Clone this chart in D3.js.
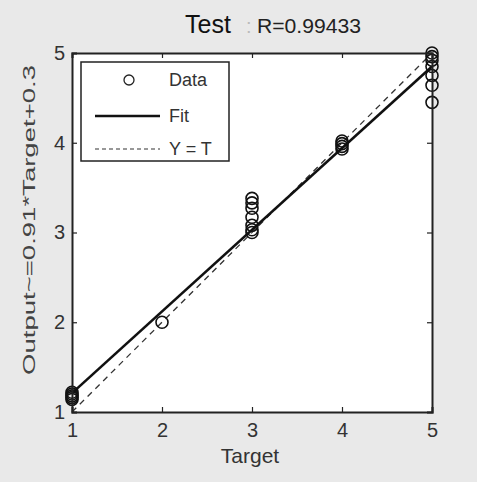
<!DOCTYPE html>
<html>
<head>
<meta charset="utf-8">
<script src="https://cdn.jsdelivr.net/npm/d3@7"></script>
<style>
  html, body { margin: 0; padding: 0; background: #e9e9e9; }
  svg { display: block; font-family: Arial, "Liberation Sans", sans-serif; }
</style>
</head>
<body>
<script>
// Regression plot for the test set: outputs vs. targets
const targets = [1, 1, 1, 1, 1, 2, 3, 3, 3, 3, 3, 3, 3, 4, 4, 4, 4, 5, 5, 5, 5, 5, 5, 5];
const outputs = [1.14, 1.16, 1.18, 1.2, 1.22, 2.0, 3.0, 3.03, 3.08, 3.17, 3.27, 3.33, 3.38, 3.93, 3.96, 3.99, 4.02, 4.45, 4.64, 4.75, 4.85, 4.92, 4.96, 5.0];
const fitSlope = 0.91, fitIntercept = 0.3;
const xTicks = [1, 2, 3, 4, 5];
const yTicks = [1, 2, 3, 4, 5];
const legendLabels = ["Data", "Fit", "Y = T"];

const W = 477, H = 482;
const svg = d3.select("body").append("svg").attr("width", W).attr("height", H);

const plotL = 72, plotR = 432, plotT = 53, plotB = 412;
const x = d3.scaleLinear().domain([1, 5]).range([plotL, plotR]);
const y = d3.scaleLinear().domain([1, 5]).range([plotB, plotT]);

// plot area
svg.append("rect").attr("x", plotL).attr("y", plotT)
  .attr("width", plotR - plotL).attr("height", plotB - plotT).attr("fill", "#fff");

// Y = T reference line (dashed)
svg.append("line")
  .attr("x1", x(1)).attr("y1", y(1)).attr("x2", x(5)).attr("y2", y(5))
  .attr("stroke", "#333").attr("stroke-width", 1.3).attr("stroke-dasharray", "6,5");

// fitted line
svg.append("line")
  .attr("x1", x(1)).attr("y1", y(fitSlope * 1 + fitIntercept))
  .attr("x2", x(5)).attr("y2", y(fitSlope * 5 + fitIntercept))
  .attr("stroke", "#111").attr("stroke-width", 2.6);

// data points
svg.append("g").selectAll("circle")
  .data(targets.map((t, i) => [t, outputs[i]]))
  .join("circle")
  .attr("cx", d => x(d[0])).attr("cy", d => y(d[1])).attr("r", 6)
  .attr("fill", "none").attr("stroke", "#111").attr("stroke-width", 1.6);

// axes: ticks inside the box, box on all sides
const axisColor = "#222";
const gx = svg.append("g").attr("transform", `translate(0,${plotB})`)
  .call(d3.axisBottom(x).tickValues(xTicks).tickSize(-5).tickPadding(11).tickFormat(d3.format("d")));
const gxTop = svg.append("g").attr("transform", `translate(0,${plotT})`)
  .call(d3.axisTop(x).tickValues(xTicks).tickSize(-5).tickFormat(""));
const gy = svg.append("g").attr("transform", `translate(${plotL},0)`)
  .call(d3.axisLeft(y).tickValues(yTicks).tickSize(-5).tickPadding(7).tickFormat(d3.format("d")));
const gyRight = svg.append("g").attr("transform", `translate(${plotR},0)`)
  .call(d3.axisRight(y).tickValues(yTicks).tickSize(-5).tickFormat(""));

[gx, gxTop, gy, gyRight].forEach(g => {
  g.select(".domain").attr("stroke", axisColor).attr("stroke-width", 2);
  g.selectAll(".tick line").attr("stroke", axisColor).attr("stroke-width", 1.2);
  g.selectAll(".tick text").attr("fill", "#333").attr("font-size", 20);
});

// legend
const lg = svg.append("g");
lg.append("rect").attr("x", 81).attr("y", 62).attr("width", 148).attr("height", 99)
  .attr("fill", "#fff").attr("stroke", "#222").attr("stroke-width", 1.5);
lg.append("circle").attr("cx", 129).attr("cy", 80).attr("r", 5)
  .attr("fill", "none").attr("stroke", "#222").attr("stroke-width", 1.3);
lg.append("line").attr("x1", 95).attr("x2", 160).attr("y1", 116).attr("y2", 116)
  .attr("stroke", "#111").attr("stroke-width", 2.4);
lg.append("line").attr("x1", 95).attr("x2", 160).attr("y1", 149).attr("y2", 149)
  .attr("stroke", "#333").attr("stroke-width", 1.2).attr("stroke-dasharray", "4,3");
lg.selectAll("text").data(legendLabels).join("text")
  .attr("x", 169).attr("y", (d, i) => [80, 116, 149][i])
  .attr("dy", "0.35em").attr("font-size", 18).attr("fill", "#333").text(d => d);

// title
svg.append("text").attr("x", 185).attr("y", 33)
  .attr("font-size", 25).attr("fill", "#111").text("Test");
svg.append("text").attr("x", 246).attr("y", 33)
  .attr("font-size", 20).attr("fill", "#bbb").text(":");
svg.append("text").attr("x", 257).attr("y", 33)
  .attr("font-size", 20).attr("fill", "#222").attr("textLength", 104)
  .attr("lengthAdjust", "spacingAndGlyphs").text("R=0.99433");

// axis labels
svg.append("text").attr("x", 250).attr("y", 463).attr("text-anchor", "middle")
  .attr("font-size", 21).attr("fill", "#333").text("Target");
svg.append("text").attr("transform", `translate(35,220) rotate(-90)`)
  .attr("text-anchor", "middle").attr("font-size", 16).attr("fill", "#444")
  .attr("textLength", 310).attr("lengthAdjust", "spacingAndGlyphs")
  .text("Output~=0.91*Target+0.3");
</script>
</body>
</html>
